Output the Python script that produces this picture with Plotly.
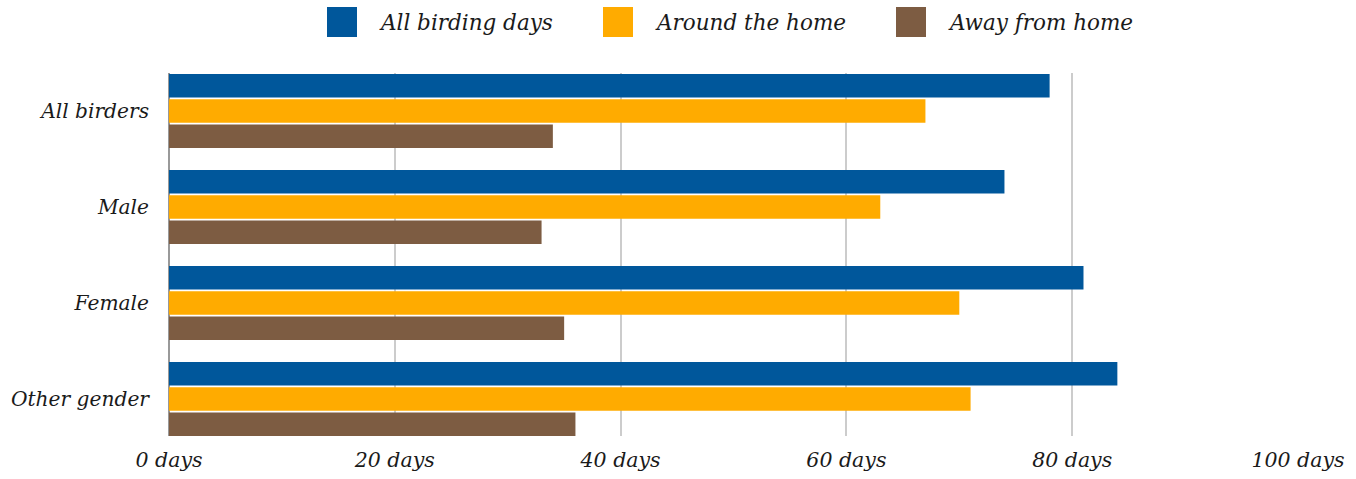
import plotly.graph_objects as go

# Average birding days per year, by birder group
groups = ["All birders", "Male", "Female", "Other gender"]
series_names = ["All birding days", "Around the home", "Away from home"]
all_days = [78, 74, 81, 84]
home_days = [67, 63, 70, 71]
away_days = [34, 33, 35, 36]
tick_vals = [0, 20, 40, 60, 80, 100]
tick_text = [f"{v} days" for v in tick_vals]

colors = ["#00579B", "#FFAB00", "#7D5C42"]
values = [all_days, home_days, away_days]

FONT = "DejaVu Serif"
W, H = 1356, 479
ML, MR, MT, MB = 169, 58, 73, 43
PW, PH = W - ML - MR, H - MT - MB

fig = go.Figure()
for name, vals, col in zip(series_names, values, colors):
    fig.add_trace(go.Bar(
        y=groups, x=vals, name=name, orientation="h",
        marker=dict(color=col, line=dict(width=0)),
        showlegend=False,
    ))

# Custom legend row above the plot: colour square + italic label
legend_px = [(327, 377), (603, 653), (896, 946)]
sq = 30
cy = 22


def px_to_paper_x(px):
    return (px - ML) / PW


def px_to_paper_y(py):
    return (H - MB - py) / PH


shapes = []
annotations = []
for (sx, tx), name, col in zip(legend_px, series_names, colors):
    shapes.append(dict(
        type="rect", xref="paper", yref="paper",
        x0=px_to_paper_x(sx), x1=px_to_paper_x(sx + sq),
        y0=px_to_paper_y(cy + sq / 2), y1=px_to_paper_y(cy - sq / 2),
        fillcolor=col, line=dict(width=0),
    ))
    annotations.append(dict(
        text=name, xref="paper", yref="paper",
        x=px_to_paper_x(tx), y=px_to_paper_y(cy),
        xanchor="left", yanchor="middle", showarrow=False,
        font=dict(family=FONT, size=21.5, color="#1a1a1a", style="italic"),
    ))

fig.update_layout(
    width=W, height=H,
    margin=dict(l=ML, r=MR, t=MT, b=MB, pad=0, autoexpand=False),
    paper_bgcolor="white", plot_bgcolor="white",
    barmode="group", bargap=0.21, bargroupgap=0.07,
    shapes=shapes, annotations=annotations,
    showlegend=False,
    xaxis=dict(
        range=[0, 100], tickvals=tick_vals, ticktext=tick_text,
        showgrid=True, gridcolor="#cccccc", gridwidth=2,
        zeroline=True, zerolinecolor="#999999", zerolinewidth=2,
        showline=False, ticks="", ticklabelstandoff=9,
        automargin=False,
        tickfont=dict(family=FONT, size=20.5, color="#1a1a1a", style="italic"),
        fixedrange=True,
    ),
    yaxis=dict(
        categoryorder="array", categoryarray=groups,
        range=[3.385, -0.396],
        showgrid=False, zeroline=False, showline=False, ticks="",
        ticklabelstandoff=19, automargin=False,
        tickfont=dict(family=FONT, size=20.2, color="#1a1a1a", style="italic"),
        fixedrange=True,
    ),
)

fig.write_html("out.html", config={"displayModeBar": False})
